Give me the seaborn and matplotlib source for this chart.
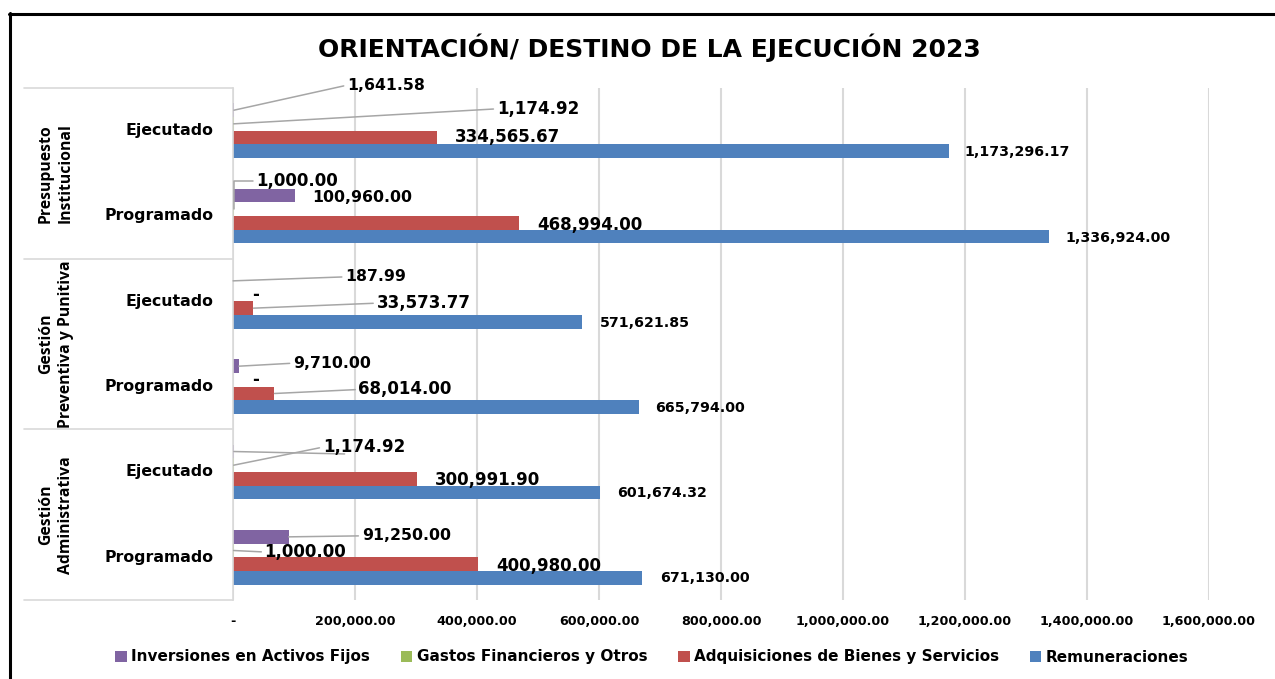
import matplotlib
matplotlib.use("Agg")
import matplotlib.pyplot as plt
import seaborn as sns
import pandas as pd
from matplotlib.lines import Line2D

sns.set_style("white")
plt.rcParams["font.family"] = ["DejaVu Sans"]

# ---------------- data ----------------
titulo = "ORIENTACIÓN/ DESTINO DE LA EJECUCIÓN 2023"
grupos = ["Presupuesto\nInstitucional", "Gestión\nPreventiva y Punitiva", "Gestión\nAdministrativa"]
subcategorias = ["Ejecutado", "Programado"]
series = ["Inversiones en Activos Fijos", "Gastos Financieros y Otros",
          "Adquisiciones de Bienes y Servicios", "Remuneraciones"]
colores = ["#8064A2", "#9BBB59", "#C0504D", "#4F81BD"]

# category order: top to bottom (group x subcategory)
inversiones = [1641.58, 100960.00, 187.99, 9710.00, 1453.59, 91250.00]
gastos = [1174.92, 1000.00, 0.0, 0.0, 1174.92, 1000.00]
adquisiciones = [334565.67, 468994.00, 33573.77, 68014.00, 300991.90, 400980.00]
remuneraciones = [1173296.17, 1336924.00, 571621.85, 665794.00, 601674.32, 671130.00]
xticks = [0, 200000, 400000, 600000, 800000, 1000000, 1200000, 1400000, 1600000]

valores = [inversiones, gastos, adquisiciones, remuneraciones]
cats = [f"{g}|{s}" for g in grupos for s in subcategorias]
rows = []
for serie, vals in zip(series, valores):
    for c, v in zip(cats, vals):
        rows.append({"cat": c, "serie": serie, "valor": v})
df = pd.DataFrame(rows)

# ---------------- label layout (pixel offsets from bar end / bar centre) ----------------
# per series, per category: (dx, dy_down, leader)
lab_inv = [(113, -25, True), (18, 1.5, False), (112, -4, True), (54, -3, True), (114, 2.5, True), (73, -1, True)]
lab_gas = [(263, -15, True), (23, -28, "elbow"), (19, 0, False), (19, 0, False), (89, -18, True), (31, 1.5, True)]
lab_adq = [(18, 0, False), (18, 2, False), (123, -5, True), (84, -4, True), (18, 1, False), (19, 2, False)]
lab_rem = [(16, 1, False), (17, 2, False), (18, 1, False), (16, 1, False), (17, 0.5, False), (18, 0, False)]
layouts = [lab_inv, lab_gas, lab_adq, lab_rem]
sizes = [11.3, 12, 12, 10.2]
hidden = {(0, 4)}  # overlapping label not visible in reference

W, H = 1275, 679
fig = plt.figure(figsize=(W / 100, H / 100), dpi=100)
ax = fig.add_axes([233 / W, 1 - 600 / H, 976 / W, 512 / H])

sns.barplot(data=df, y="cat", x="valor", hue="serie", order=cats, hue_order=series,
            palette=colores, width=0.64, orient="h", errorbar=None, saturation=1,
            linewidth=0, ax=ax)
handles, labels = ax.get_legend_handles_labels()
if ax.get_legend() is not None:
    ax.get_legend().remove()

ax.set_xlim(0, 1600000)
ax.set_ylim(len(cats) - 0.5, -0.5)
ax.set_xticks(xticks)
ax.set_xticklabels(["-" if t == 0 else f"{t:,.2f}" for t in xticks],
                   fontsize=9.2, fontweight="bold", color="#000000")
ax.tick_params(axis="x", length=0, pad=11)
ax.set_yticks([])
ax.set_xlabel("")
ax.set_ylabel("")
ax.grid(axis="x", color="#D9D9D9", lw=1.5)
ax.set_axisbelow(True)
for s in ["top", "right", "bottom"]:
    ax.spines[s].set_visible(False)
ax.spines["left"].set_color("#D9D9D9")
ax.spines["left"].set_linewidth(1.2)

# data labels
for j, cont in enumerate(ax.containers):
    for i, bar in enumerate(cont):
        v = valores[j][i]
        dx, dy, leader = layouts[j][i]
        txt = "-" if v == 0 else f"{v:,.2f}"
        if (j, i) in hidden:
            txt = " "
        xe = bar.get_x() + bar.get_width()
        yc = bar.get_y() + bar.get_height() / 2
        kw = {}
        if leader:
            ap = dict(arrowstyle="-", color="#A6A6A6", lw=1.1,
                      shrinkA=0, shrinkB=0, relpos=(0, 0.5))
            if leader == "elbow":
                ap["connectionstyle"] = "angle,angleA=0,angleB=90,rad=0"
            kw["arrowprops"] = ap
        ax.annotate(txt, xy=(xe, yc), xytext=(dx, -dy), textcoords="offset pixels",
                    ha="left", va="center", fontsize=sizes[j], fontweight="bold",
                    color="#000000", annotation_clip=False, **kw)

# category labels (two levels)
ytr = ax.get_yaxis_transform()
for i, c in enumerate(cats):
    sub = c.split("|")[1]
    ax.text(-20 / 976, i, sub, transform=ytr, ha="right", va="center",
            fontsize=11.3, fontweight="bold", color="#000000")
for g_i, g in enumerate(grupos):
    ax.text(-177 / 976, 2 * g_i + 0.5, g, transform=ytr, rotation=90, ha="center",
            va="center", multialignment="center", fontsize=11.3, fontweight="bold",
            family=["Open Sans", "DejaVu Sans"], linespacing=1.35, color="#000000")
for yb in [-0.5, 1.5, 3.5, 5.5]:
    ax.plot([-209 / 976, 0], [yb, yb], transform=ytr, color="#D9D9D9", lw=1.2,
            clip_on=False)

# title
fig.text(649 / W, 1 - 48 / H, titulo, ha="center", va="center", fontsize=18,
         fontweight="bold", color="#000000")

# legend
fig.legend(handles, labels, loc="center", bbox_to_anchor=(652 / W, 1 - 657 / H), ncol=4,
           frameon=False, handlelength=0.75, handleheight=0.75, handletextpad=0.3,
           columnspacing=2.0, labelcolor="#000000", prop={"size": 11, "weight": "bold"})

# outer border (top and left)
fig.add_artist(Line2D([10 / W, 10 / W], [0, 1 - 13 / H], color="black", lw=2.2,
                      transform=fig.transFigure))
fig.add_artist(Line2D([9 / W, 1], [1 - 14 / H, 1 - 14 / H], color="black", lw=2.2,
                      transform=fig.transFigure))

fig.savefig("out.png", dpi=100)
